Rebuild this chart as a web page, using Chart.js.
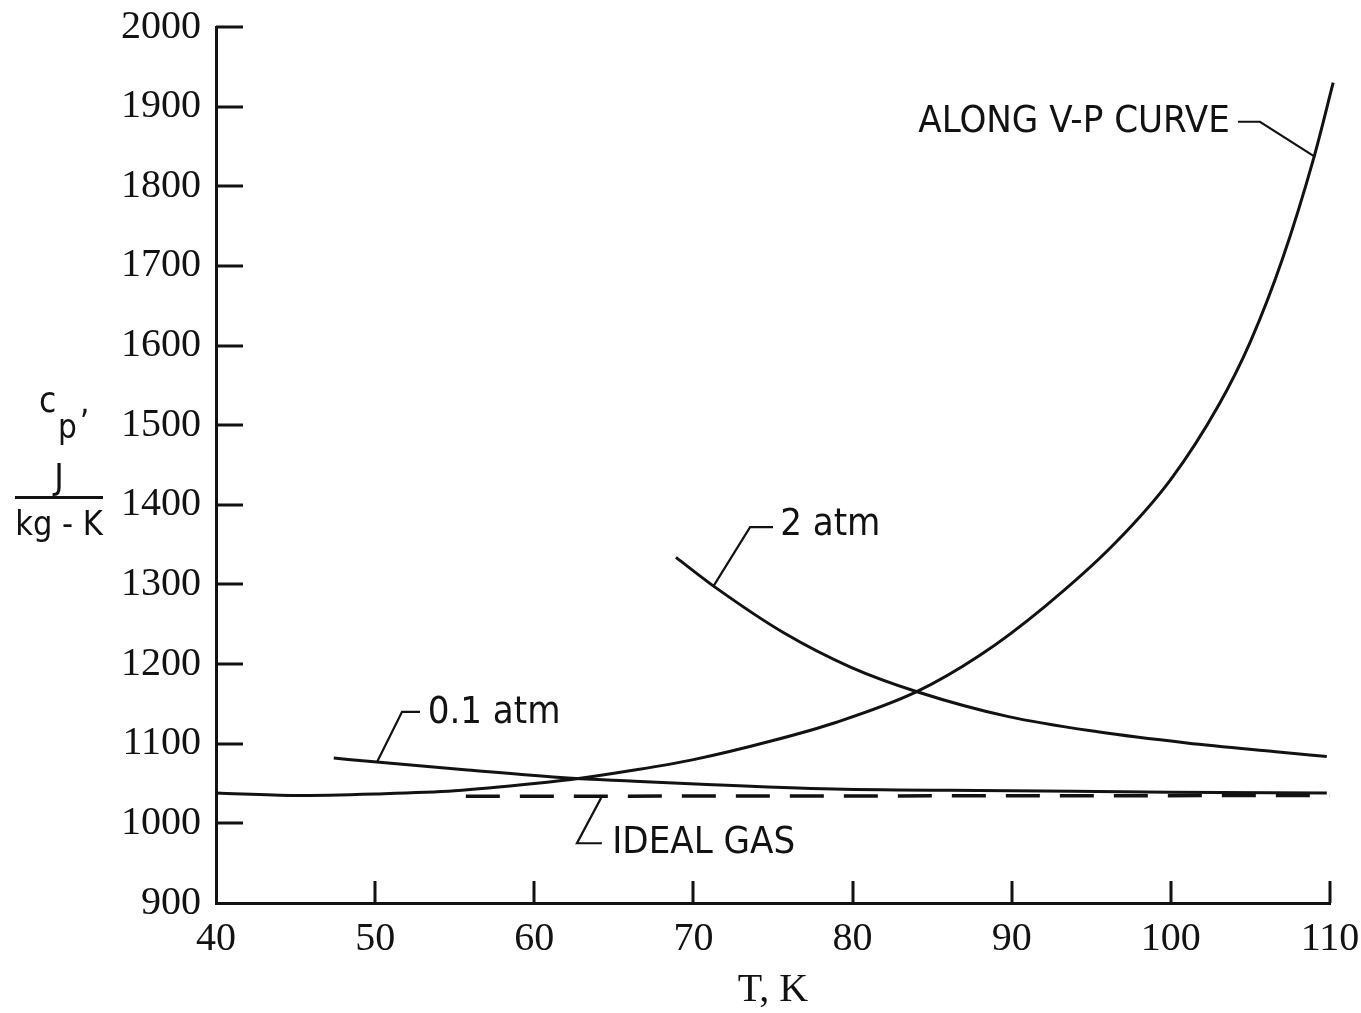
<!DOCTYPE html>
<html>
<head>
<meta charset="utf-8">
<script src="https://cdn.jsdelivr.net/npm/chart.js@4.4.1/dist/chart.umd.min.js"></script>
<style>
  html, body { margin: 0; padding: 0; background: #ffffff; }
  #wrap { width: 1361px; height: 1013px; }
</style>
</head>
<body>
<div id="wrap"><canvas id="cp" width="1361" height="1013"></canvas></div>
<script>
// Specific heat of nitrogen, J/(kg K), against temperature T, K

// along the vapour-pressure curve
const vpT  = [40, 45, 50, 55, 60, 63, 66, 70, 75, 79, 84, 88, 92, 96.5, 100, 103, 105, 107, 109, 110.2];
const vpCp = [1038, 1035, 1037, 1041, 1050, 1057, 1066, 1080, 1104, 1127, 1165, 1211, 1271, 1352, 1432, 1525, 1605, 1708, 1837, 1930];

// isobar, 2 atm
const atm2T  = [68.9, 71.4, 75.7, 79.9, 84.1, 89.8, 95.4, 101, 106.6, 109.8];
const atm2Cp = [1334, 1296, 1239, 1196, 1165, 1134, 1115, 1101, 1090, 1084];

// isobar, 0.1 atm
const atm01T  = [47.4, 50.1, 55.8, 62.1, 66.3, 70.5, 78.8, 90, 100, 109.8];
const atm01Cp = [1082, 1077, 1067, 1057, 1053, 1049, 1043, 1041, 1039, 1038];

// ideal gas
const idealT  = [55.7, 110];
const idealCp = [1034, 1035];

// axis ticks
const xTicks = [40, 50, 60, 70, 80, 90, 100, 110];
const yTicks = [900, 1000, 1100, 1200, 1300, 1400, 1500, 1600, 1700, 1800, 1900, 2000];

// curve captions with their leader lines, in data units
const captions = [
  { text: '0.1 atm', align: 'left',  at: [53.3, 1139], leader: [[50.12, 1077], [51.69, 1140], [52.82, 1140]] },
  { text: '2 atm',   align: 'left',  at: [75.45, 1375], leader: [[71.23, 1297], [73.56, 1372], [75.0, 1372]] },
  { text: 'ALONG V-P CURVE', align: 'right', at: [103.7, 1881], leader: [[109.06, 1837], [105.6, 1881], [104.22, 1881]] },
  { text: 'IDEAL GAS', align: 'left', at: [64.9, 975], leader: [[64.2, 1032], [62.68, 975], [64.25, 975]] }
];

const INK = '#121212';
const TICK_FONT = "'Liberation Serif', 'DejaVu Serif', serif";
const NOTE_FONT = "'DejaVu Sans Condensed', 'DejaVu Sans', sans-serif";

const pairs = (xs, ys) => xs.map((x, i) => ({ x: x, y: ys[i] }));

const curveStyle = {
  borderColor: INK,
  borderWidth: 3,
  pointRadius: 0,
  pointHoverRadius: 0,
  cubicInterpolationMode: 'monotone',
  fill: false,
  clip: 8
};

// scales keep exactly the box given by the layout padding
const noScalePadding = s => { s.paddingLeft = s.paddingRight = s.paddingTop = s.paddingBottom = 0; };

// inward tick marks on both axes
const tickMarks = {
  id: 'tickMarks',
  afterDraw(chart) {
    const { ctx, scales: { x, y }, chartArea } = chart;
    ctx.save();
    ctx.strokeStyle = INK;
    ctx.lineWidth = 3;
    ctx.lineCap = 'butt';
    ctx.beginPath();
    xTicks.forEach(v => {
      if (v === x.min) return;
      const px = Math.round(x.getPixelForValue(v));
      ctx.moveTo(px, chartArea.bottom);
      ctx.lineTo(px, chartArea.bottom - 22);
    });
    yTicks.forEach(v => {
      if (v === y.min) return;
      const py = Math.round(y.getPixelForValue(v));
      ctx.moveTo(chartArea.left, py);
      ctx.lineTo(chartArea.left + 27, py);
    });
    ctx.stroke();
    ctx.restore();
  }
};

// curve captions and the y-axis quantity/units block
const notes = {
  id: 'notes',
  afterDraw(chart) {
    const { ctx, scales: { x, y }, chartArea } = chart;
    ctx.save();
    ctx.strokeStyle = INK;
    ctx.fillStyle = INK;
    ctx.lineWidth = 2.2;
    ctx.lineJoin = 'miter';

    captions.forEach(c => {
      ctx.beginPath();
      c.leader.forEach((p, i) => {
        const px = x.getPixelForValue(p[0]);
        const py = y.getPixelForValue(p[1]);
        if (i === 0) ctx.moveTo(px, py); else ctx.lineTo(px, py);
      });
      ctx.stroke();
      ctx.font = '38px ' + NOTE_FONT;
      ctx.textAlign = c.align;
      ctx.textBaseline = 'middle';
      ctx.fillText(c.text, x.getPixelForValue(c.at[0]), y.getPixelForValue(c.at[1]));
    });

    // c_p, over J / (kg - K)
    const cx = chartArea.left - 157;
    ctx.textBaseline = 'alphabetic';
    ctx.textAlign = 'left';
    ctx.font = '35px ' + NOTE_FONT;
    ctx.fillText('c', cx - 20, 412);
    ctx.font = '33px ' + NOTE_FONT;
    ctx.fillText('p', cx - 1, 438);
    ctx.fillText(',', cx + 21, 413);
    ctx.textAlign = 'center';
    ctx.font = '36px ' + NOTE_FONT;
    ctx.fillText('J', cx, 489);
    ctx.lineWidth = 3;
    ctx.beginPath();
    ctx.moveTo(cx - 44, 497.5);
    ctx.lineTo(cx + 44, 497.5);
    ctx.stroke();
    ctx.font = '34px ' + NOTE_FONT;
    ctx.fillText('kg - K', cx, 535);
    ctx.restore();
  }
};

new Chart(document.getElementById('cp'), {
  type: 'line',
  data: {
    datasets: [
      Object.assign({ label: 'along V-P curve', data: pairs(vpT, vpCp) }, curveStyle),
      Object.assign({ label: '2 atm', data: pairs(atm2T, atm2Cp) }, curveStyle),
      Object.assign({ label: '0.1 atm', data: pairs(atm01T, atm01Cp) }, curveStyle),
      Object.assign({ label: 'ideal gas', data: pairs(idealT, idealCp) }, curveStyle,
        { borderDash: [34, 20], borderWidth: 3.5, cubicInterpolationMode: 'default', tension: 0 })
    ]
  },
  options: {
    responsive: false,
    animation: false,
    devicePixelRatio: 1,
    layout: { padding: { left: 0, right: 31, top: 27, bottom: 0 } },
    plugins: { legend: { display: false }, tooltip: { enabled: false } },
    scales: {
      x: {
        type: 'linear',
        min: 40, max: 110,
        afterBuildTicks: s => { s.ticks = xTicks.map(v => ({ value: v })); },
        afterFit: s => { s.height = 110; noScalePadding(s); },
        grid: { display: false, drawTicks: false },
        border: { display: true, color: INK, width: 3 },
        ticks: { color: INK, padding: 12, maxRotation: 0, callback: v => String(v),
                 font: { family: TICK_FONT, size: 40 } },
        title: { display: true, text: 'T, K', color: INK, padding: { top: 0, bottom: 1 },
                 font: { family: TICK_FONT, size: 40, lineHeight: 1.1 } }
      },
      y: {
        type: 'linear',
        min: 900, max: 2000,
        afterBuildTicks: s => { s.ticks = yTicks.map(v => ({ value: v })); },
        afterFit: s => { s.width = 216; noScalePadding(s); },
        grid: { display: false, drawTicks: false },
        border: { display: true, color: INK, width: 3 },
        ticks: { color: INK, padding: 15, callback: v => String(v),
                 font: { family: TICK_FONT, size: 40 } }
      }
    }
  },
  plugins: [tickMarks, notes]
});
</script>
</body>
</html>
